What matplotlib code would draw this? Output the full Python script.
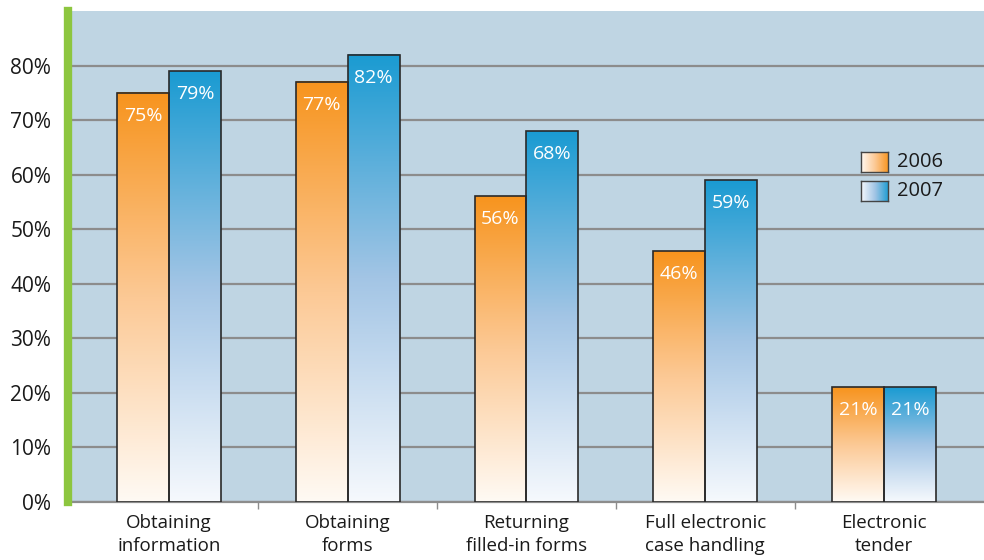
import numpy as np
import matplotlib
matplotlib.use("Agg")
import matplotlib.pyplot as plt
from matplotlib.colors import LinearSegmentedColormap

categories = ["Obtaining\ninformation", "Obtaining\nforms", "Returning\nfilled-in forms",
              "Full electronic\ncase handling", "Electronic\ntender"]
series_names = ["2006", "2007"]
values_2006 = [75, 77, 56, 46, 21]
values_2007 = [79, 82, 68, 59, 21]
ytick_vals = [0, 10, 20, 30, 40, 50, 60, 70, 80]
ytick_labels = [f"{v}%" for v in ytick_vals]

plt.rcParams['font.family'] = ['Open Sans', 'DejaVu Sans']

fig = plt.figure(figsize=(9.84, 5.6), dpi=100)
ax = fig.add_axes([68/984, 58/560, 916/984, 491/560])
ax.set_facecolor('#bfd5e3')

orange_cmap = LinearSegmentedColormap.from_list('o', ['#fffaf4', '#fcc995', '#f7941e'])
blue_cmap = LinearSegmentedColormap.from_list('b', ['#f6f9fd', '#a3c5e5', '#1a9bd2'])

x = np.arange(len(categories))
w = 0.29
bars1 = ax.bar(x - w/2, values_2006, w, facecolor='none', edgecolor='#2a2a2a', linewidth=1.2, zorder=4)
bars2 = ax.bar(x + w/2, values_2007, w, facecolor='none', edgecolor='#2a2a2a', linewidth=1.2, zorder=4)

grad = np.linspace(0, 1, 256).reshape(-1, 1)
for bars, cmap in ((bars1, orange_cmap), (bars2, blue_cmap)):
    for p in bars.patches:
        bx, by, bw, bh = p.get_x(), p.get_y(), p.get_width(), p.get_height()
        ax.imshow(grad, extent=[bx, bx + bw, by, by + bh], origin='lower', aspect='auto',
                  cmap=cmap, zorder=3, interpolation='bicubic')

for bars, vals in ((bars1, values_2006), (bars2, values_2007)):
    for p, v in zip(bars.patches, vals):
        ax.annotate(f"{v}%", (p.get_x() + p.get_width()/2, p.get_height()),
                    xytext=(0, -10), textcoords='offset points', ha='center', va='top',
                    color='white', fontsize=14, zorder=5)

ax.set_xlim(-0.565, 4.56)
ax.set_ylim(0, 90)
ax.set_yticks(ytick_vals)
ax.set_yticklabels(ytick_labels, fontsize=15, color='#1a1a1a')
ax.yaxis.grid(True, color='#8c8c8c', linewidth=1.6, zorder=1)
ax.set_axisbelow(True)
ax.tick_params(axis='y', length=0, pad=12)

ax.set_xticks(x)
ax.set_xticklabels(categories, fontsize=13.5, color='#1a1a1a', linespacing=1.3)
ax.set_xticks(x[:-1] + 0.5, minor=True)
ax.tick_params(axis='x', which='major', length=0, pad=9)
ax.tick_params(axis='x', which='minor', length=5, width=1, color='#8c8c8c', direction='out')

for s in ['top', 'right']:
    ax.spines[s].set_visible(False)
ax.spines['bottom'].set_color('#8c8c8c')
ax.spines['bottom'].set_linewidth(1.6)
ax.spines['left'].set_color('#8dc63f')
ax.spines['left'].set_linewidth(6)
ax.spines['left'].set_zorder(6)

# legend with horizontal gradient swatches
hgrad = np.linspace(0, 1, 256).reshape(1, -1)
legend_rows = [(0.672, orange_cmap, series_names[0]), (0.613, blue_cmap, series_names[1])]
for y0, cmap, name in legend_rows:
    sw = ax.inset_axes([0.866, y0, 0.0295, 0.0407])
    sw.imshow(hgrad, aspect='auto', cmap=cmap, interpolation='bicubic')
    sw.set_xticks([]); sw.set_yticks([])
    for s in sw.spines.values():
        s.set_color('#444444'); s.set_linewidth(1)
    ax.text(0.905, y0 + 0.0204, name, transform=ax.transAxes, fontsize=14.5,
            va='center', ha='left', color='#1a1a1a')

fig.savefig("out.png", dpi=100)
